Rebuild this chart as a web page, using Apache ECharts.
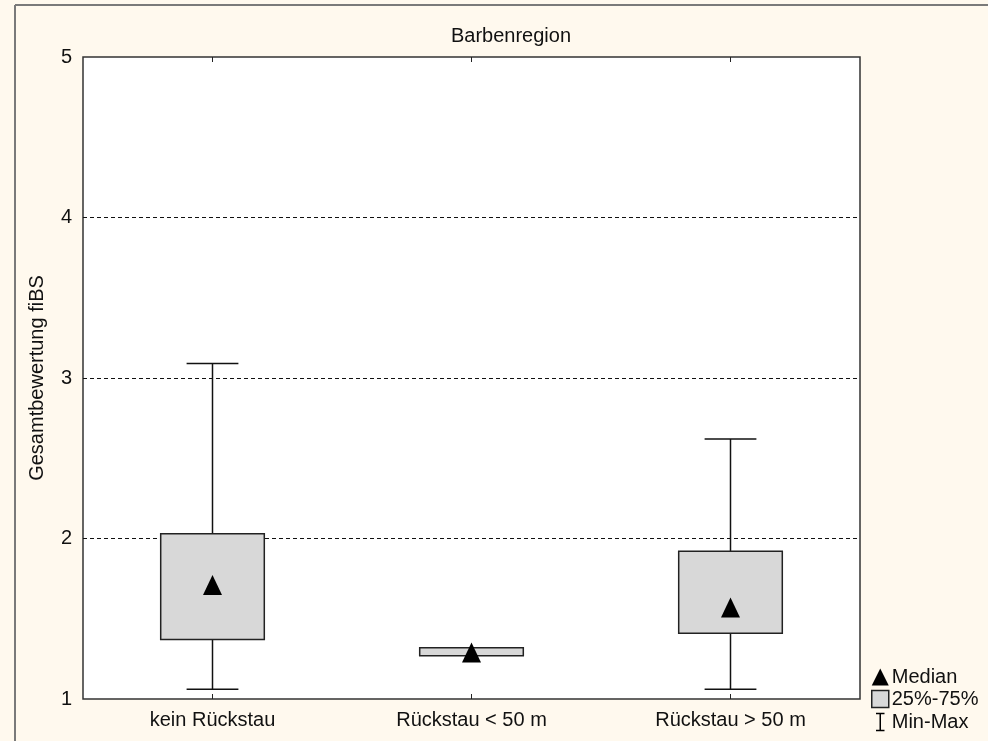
<!DOCTYPE html>
<html>
<head>
<meta charset="utf-8">
<script src="https://cdn.jsdelivr.net/npm/echarts@6/dist/echarts.min.js"></script>
<style>
  html, body { margin: 0; padding: 0; background: #fff9ee; }
  #main { width: 988px; height: 741px; }
</style>
</head>
<body>
<div id="main"></div>
<script>
// Gruppen und Kennwerte
var categories = ['kein Rückstau', 'Rückstau < 50 m', 'Rückstau > 50 m'];
var minVals    = [1.06, 1.27, 1.06];
var q1Vals     = [1.37, 1.27, 1.41];
var medianVals = [1.71, 1.29, 1.57];
var q3Vals     = [2.03, 1.32, 1.92];
var maxVals    = [3.09, 1.32, 2.62];
var yTicks     = [1, 2, 3, 4, 5];

var FONT = 'Liberation Sans, Arial, sans-serif';

var boxData = categories.map(function (c, i) { return [i, q1Vals[i], q3Vals[i]]; });
var whiskerData = categories.map(function (c, i) { return [i, minVals[i], maxVals[i], q1Vals[i], q3Vals[i]]; });
var medianData = categories.map(function (c, i) { return [i, medianVals[i]]; });

var chart = echarts.init(document.getElementById('main'));

var option = {
    backgroundColor: '#fff9ee',
    animation: false,
    textStyle: { fontFamily: FONT },
    title: {
        text: 'Barbenregion',
        left: 506,
        top: 21,
        textAlign: 'center',
        textStyle: { fontFamily: FONT, fontSize: 20, fontWeight: 'normal', color: '#111' }
    },
    graphic: [
        { type: 'line', shape: { x1: 15, y1: 5, x2: 15, y2: 741 }, style: { stroke: '#7a7a7a', lineWidth: 2 } },
        { type: 'line', shape: { x1: 15, y1: 5, x2: 988, y2: 5 }, style: { stroke: '#7a7a7a', lineWidth: 2 } }
    ],
    legend: {
        orient: 'vertical',
        left: 871,
        top: 667,
        padding: 0,
        itemWidth: 17,
        itemHeight: 17,
        itemGap: 2,
        selectedMode: false,
        textStyle: { fontFamily: FONT, fontSize: 20, color: '#111', lineHeight: 18, padding: [0, 0, 0, -2] },
        data: [
            { name: 'Median', icon: 'triangle', itemStyle: { color: '#000', opacity: 1 } },
            { name: '25%-75%', icon: 'rect', itemStyle: { color: '#d8d8d8', borderColor: '#222', borderWidth: 1.5 } },
            { name: 'Min-Max', icon: 'path://M0,0 L10,0 M5,0 L5,20 M0,20 L10,20', itemStyle: { color: 'none', borderColor: '#000', borderWidth: 1.5 } }
        ]
    },
    grid: {
        left: 83,
        right: 128,
        top: 57,
        bottom: 42,
        show: true,
        backgroundColor: '#ffffff',
        borderColor: '#333',
        borderWidth: 1.5
    },
    xAxis: [
        {
            type: 'category',
            data: categories,
            axisLine: { show: false },
            axisTick: { show: true, inside: true, alignWithLabel: true, length: 5, lineStyle: { color: '#222' } },
            axisLabel: { fontFamily: FONT, fontSize: 20, color: '#111', margin: 11 },
            splitLine: { show: false }
        },
        {
            type: 'category',
            position: 'top',
            data: categories,
            axisLine: { show: false },
            axisTick: { show: true, inside: true, alignWithLabel: true, length: 5, lineStyle: { color: '#222' } },
            axisLabel: { show: false },
            splitLine: { show: false }
        }
    ],
    yAxis: {
        type: 'value',
        min: 1,
        max: 5,
        interval: 1,
        name: 'Gesamtbewertung fiBS',
        nameLocation: 'middle',
        nameRotate: 90,
        nameGap: 36,
        nameTextStyle: { fontFamily: FONT, fontSize: 20, color: '#111' },
        axisLine: { show: false },
        axisTick: { show: false },
        axisLabel: {
            fontFamily: FONT, fontSize: 20, color: '#111', margin: 11,
            formatter: function (v) { return yTicks.indexOf(v) >= 0 ? String(v) : ''; }
        },
        splitLine: {
            show: true,
            showMinLine: false,
            showMaxLine: false,
            lineStyle: { color: '#111', width: 1, type: [4, 3] }
        }
    },
    series: [
        {
            name: 'Min-Max',
            type: 'custom',
            data: whiskerData,
            z: 2,
            renderItem: function (params, api) {
                var x = api.value(0);
                var pMin = api.coord([x, api.value(1)]);
                var pMax = api.coord([x, api.value(2)]);
                var pQ1 = api.coord([x, api.value(3)]);
                var pQ3 = api.coord([x, api.value(4)]);
                var capW = api.size([1, 0])[0] * 0.2;
                var st = { stroke: '#111', lineWidth: 1.5 };
                var children = [];
                if (pMax[1] < pQ3[1] - 0.5) {
                    children.push({ type: 'line', shape: { x1: pMax[0], y1: pMax[1], x2: pQ3[0], y2: pQ3[1] }, style: st });
                    children.push({ type: 'line', shape: { x1: pMax[0] - capW / 2, y1: pMax[1], x2: pMax[0] + capW / 2, y2: pMax[1] }, style: st });
                }
                if (pMin[1] > pQ1[1] + 0.5) {
                    children.push({ type: 'line', shape: { x1: pMin[0], y1: pMin[1], x2: pQ1[0], y2: pQ1[1] }, style: st });
                    children.push({ type: 'line', shape: { x1: pMin[0] - capW / 2, y1: pMin[1], x2: pMin[0] + capW / 2, y2: pMin[1] }, style: st });
                }
                return { type: 'group', children: children };
            },
            itemStyle: { color: 'none', borderColor: '#000' }
        },
        {
            name: '25%-75%',
            type: 'custom',
            data: boxData,
            z: 3,
            renderItem: function (params, api) {
                var x = api.value(0);
                var pLo = api.coord([x, api.value(1)]);
                var pHi = api.coord([x, api.value(2)]);
                var w = api.size([1, 0])[0] * 0.4;
                return {
                    type: 'rect',
                    shape: { x: pLo[0] - w / 2, y: pHi[1], width: w, height: pLo[1] - pHi[1] },
                    style: { fill: '#d8d8d8', stroke: '#222', lineWidth: 1.5 }
                };
            },
            itemStyle: { color: '#d8d8d8', borderColor: '#222' }
        },
        {
            name: 'Median',
            type: 'scatter',
            data: medianData,
            symbol: 'triangle',
            symbolSize: [19, 20],
            z: 4,
            itemStyle: { color: '#000', opacity: 1 }
        }
    ]
};

chart.setOption(option);
</script>
</body>
</html>
